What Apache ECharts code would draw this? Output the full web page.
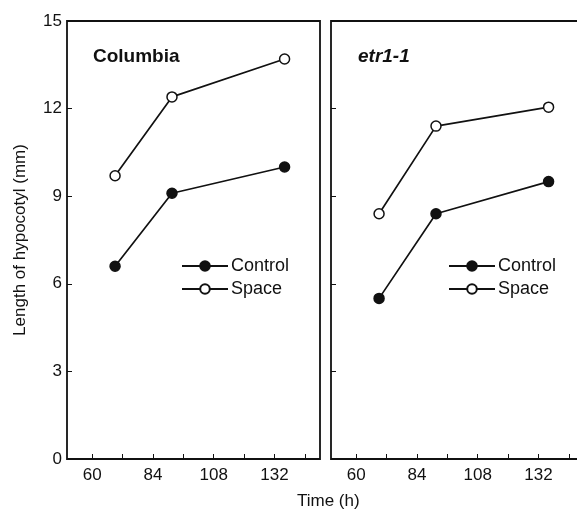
<!DOCTYPE html>
<html>
<head>
<meta charset="utf-8">
<script src="https://cdn.jsdelivr.net/npm/echarts@6/dist/echarts.min.js"></script>
<style>
  html, body { margin: 0; padding: 0; background: #fff; }
  #chart { width: 577px; height: 510px; }
</style>
</head>
<body>
<div id="chart"></div>
<script>
// 数据：时间 (h) 和 下胚轴长度 (mm)
const times = [69, 91.5, 136];
const colControl = [6.6, 9.1, 10.0];
const colSpace = [9.7, 12.4, 13.7];
const etrControl = [5.5, 8.4, 9.5];
const etrSpace = [8.4, 11.4, 12.05];
const xTicks = [60, 72, 84, 96, 108, 120, 132, 144];
const xLabels = [60, 84, 108, 132];
const panelNames = ["Columbia", "etr1-1"];

const font = "Liberation Sans, Arial, sans-serif";

function pairs(ys) {
  return times.map((t, i) => [t, ys[i]]);
}

const chart = echarts.init(document.getElementById("chart"));

function xAxisFor(gridIndex) {
  return {
    type: "value",
    gridIndex: gridIndex,
    min: 50,
    max: 150,
    axisLine: { show: false },
    splitLine: { show: false },
    axisTick: {
      inside: true,
      length: 5,
      customValues: xTicks,
      lineStyle: { color: "#111", width: 1 },
    },
    axisLabel: {
      customValues: xLabels,
      color: "#111",
      fontFamily: font,
      fontSize: 17,
      margin: 8,
    },
  };
}

function yAxisFor(gridIndex, withLabels) {
  return {
    type: "value",
    gridIndex: gridIndex,
    min: 0,
    max: 15,
    interval: 3,
    axisLine: { show: false },
    splitLine: { show: false },
    axisTick: {
      inside: true,
      length: 5,
      lineStyle: { color: "#111", width: 1 },
    },
    axisLabel: {
      show: withLabels,
      color: "#111",
      fontFamily: font,
      fontSize: 17,
      margin: 5,
    },
    name: withLabels ? "Length of hypocotyl (mm)" : "",
    nameLocation: "middle",
    nameGap: 38,
    nameTextStyle: { color: "#111", fontFamily: font, fontSize: 17 },
  };
}

function lineSeries(name, idx, ys, filled) {
  return {
    name: name,
    type: "line",
    xAxisIndex: idx,
    yAxisIndex: idx,
    data: pairs(ys),
    symbol: "circle",
    symbolSize: 10,
    lineStyle: { color: "#111", width: 1.7 },
    itemStyle: {
      color: filled ? "#111" : "#fff",
      borderColor: "#111",
      borderWidth: 1.5,
    },
    z: filled ? 3 : 4,
    animation: false,
  };
}

function legendAt(left) {
  return {
    orient: "vertical",
    left: left,
    top: 252,
    itemWidth: 46,
    itemHeight: 12,
    itemGap: 5,
    data: ["Control", "Space"],
    textStyle: { color: "#111", fontFamily: font, fontSize: 18, padding: [0, 0, 0, -2] },
    selectedMode: false,
  };
}

const option = {
  backgroundColor: "#fff",
  title: [
    {
      text: panelNames[0],
      left: 88,
      top: 42,
      textStyle: { fontFamily: font, fontSize: 19, fontWeight: "bold", color: "#111" },
    },
    {
      text: panelNames[1],
      left: 353,
      top: 42,
      textStyle: { fontFamily: font, fontSize: 19, fontWeight: "bold", fontStyle: "italic", color: "#111" },
    },
    {
      text: "Time (h)",
      left: 292,
      top: 488,
      textStyle: { fontFamily: font, fontSize: 17, fontWeight: "normal", color: "#111" },
    },
  ],
  legend: [legendAt(176), legendAt(443)],
  grid: [
    { left: 67, width: 253, top: 21, bottom: 51, show: true, borderColor: "#111", borderWidth: 1.8, outerBoundsMode: "none" },
    // 右边的面板被图片裁掉了一截
    { left: 331, width: 253, top: 21, bottom: 51, show: true, borderColor: "#111", borderWidth: 1.8, outerBoundsMode: "none" },
  ],
  xAxis: [xAxisFor(0), xAxisFor(1)],
  yAxis: [yAxisFor(0, true), yAxisFor(1, false)],
  series: [
    lineSeries("Control", 0, colControl, true),
    lineSeries("Space", 0, colSpace, false),
    lineSeries("Control", 1, etrControl, true),
    lineSeries("Space", 1, etrSpace, false),
  ],
};

chart.setOption(option);
</script>
</body>
</html>
